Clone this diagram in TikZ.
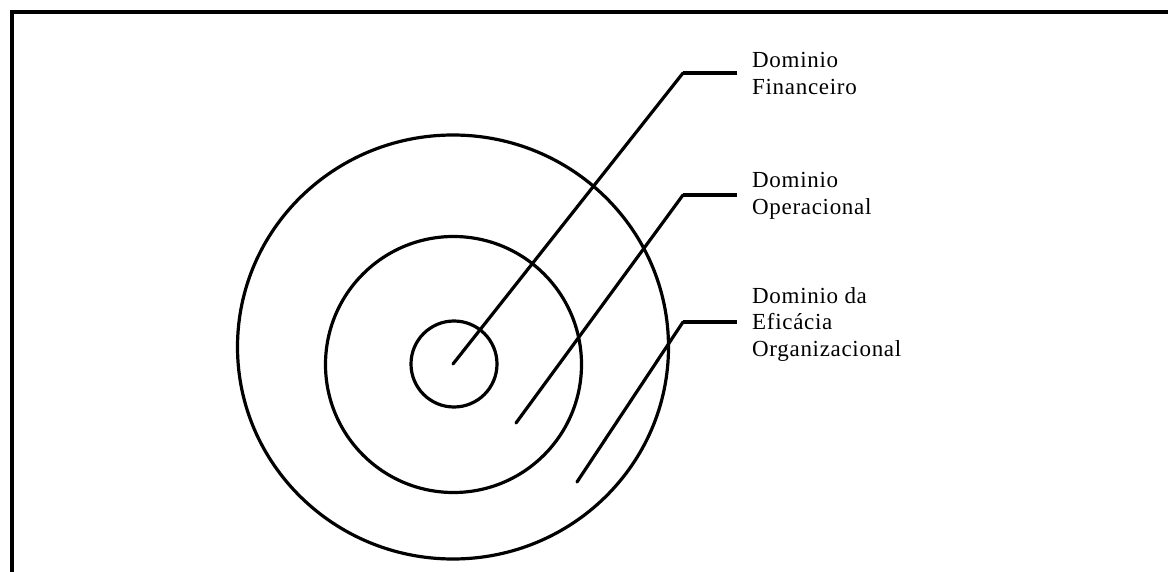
\documentclass[tikz,border=0pt]{standalone}
\usepackage{fontspec}
\setmainfont{Liberation Serif}
\usetikzlibrary{shapes.geometric}
\begin{document}
\begin{tikzpicture}[x=1pt,y=-1pt,
  ring/.style={draw=black, line width=3.2pt, inner sep=0pt, fill=none},
  leader/.style={draw=black, line width=3.2pt, line cap=round},
  tick/.style={draw=black, line width=4.5pt},
  label/.style={anchor=north west, inner sep=0pt, align=left,
    font=\fontsize{23}{26.5}\selectfont\addfontfeatures{LetterSpace=3}}]
\useasboundingbox (0,0) rectangle (1168,572);
\clip (0,0) rectangle (1168,572);
% frame (only top and left edges visible)
\draw[line width=4pt] (11.5,580) -- (11.5,12.5) -- (1180,12.5);
% domains
\node[ring, circle, minimum size=86pt] (inner) at (454,364) {};
\node[ring, circle, minimum size=256pt] (middle) at (453.5,364.5) {};
\node[ring, ellipse, minimum width=431pt, minimum height=424pt] (outer) at (453,347) {};
% labels
\node[label] (lf) at (752,52.3) {Dominio\\Financeiro};
\node[label] (lo) at (752,172.3) {Dominio\\Operacional};
\node[label] (le) at (752,287.3) {Dominio da\\Eficácia\\Organizacional};
% leader lines
\coordinate (pf) at (453,364);
\coordinate (kf) at (683,73);
\coordinate (ef) at (737,73);
\coordinate (po) at (516,423);
\coordinate (ko) at (683,195);
\coordinate (eo) at (737,195);
\coordinate (pe) at (577,482);
\coordinate (ke) at (683,322);
\coordinate (ee) at (737,322);
\draw[leader] (pf) -- (kf);
\draw[tick] (kf) -- (ef);
\draw[leader] (po) -- (ko);
\draw[tick] (ko) -- (eo);
\draw[leader] (pe) -- (ke);
\draw[tick] (ke) -- (ee);
\end{tikzpicture}
\end{document}
